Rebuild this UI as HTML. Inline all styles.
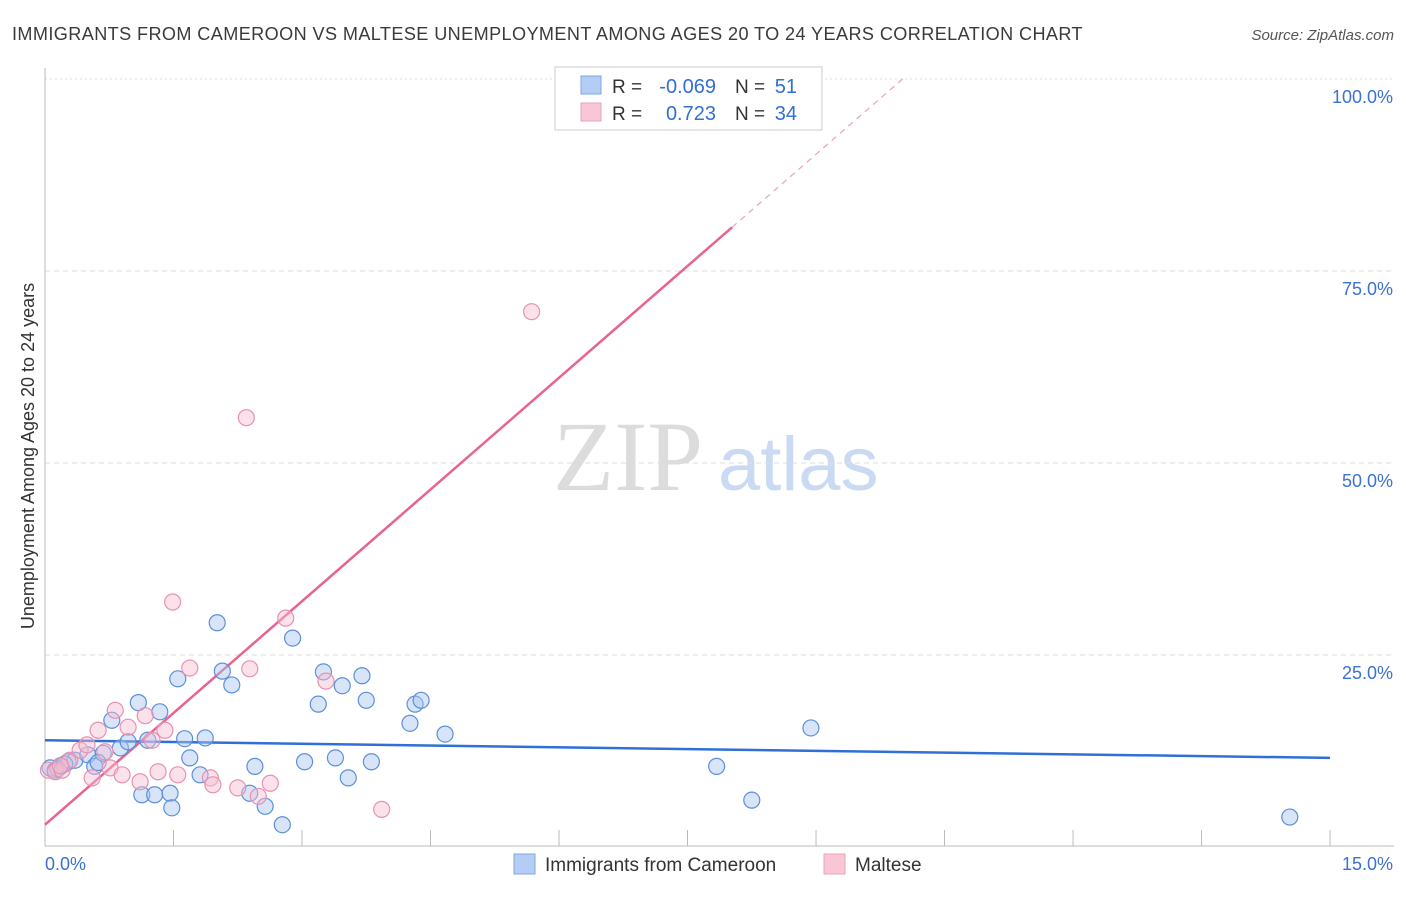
<!DOCTYPE html>
<html><head><meta charset="utf-8"><style>
body{margin:0;background:#fff;font-family:"Liberation Sans",sans-serif;}
svg text{font-family:"Liberation Sans",sans-serif;}
</style></head><body>
<svg width="1406" height="892" viewBox="0 0 1406 892" xmlns="http://www.w3.org/2000/svg" id="chart">
<text x="12" y="40" font-size="18" fill="#3a3a3a" letter-spacing="0.4" textLength="1071" lengthAdjust="spacingAndGlyphs">IMMIGRANTS FROM CAMEROON VS MALTESE UNEMPLOYMENT AMONG AGES 20 TO 24 YEARS CORRELATION CHART</text>
<text x="1394" y="40" font-size="15" fill="#555" text-anchor="end" font-style="italic">Source: ZipAtlas.com</text>
<text x="553" y="490" font-size="100" fill="#dcdcdc" style="font-family:'Liberation Serif',serif">ZIP</text>
<text x="718" y="490" font-size="76" fill="#c9daf2">atlas</text>
<text transform="translate(34,456) rotate(-90)" font-size="18" fill="#333" text-anchor="middle">Unemployment Among Ages 20 to 24 years</text>
<g id="grid"></g><g id="ticks"></g><g id="lines"></g><g id="pts"></g>
<g>
<rect x="555" y="67" width="267" height="63" fill="#fff" stroke="#ccc"/>
<rect x="581" y="76" width="20" height="18" fill="#b3cdf5" stroke="#7fa6e0"/>
<rect x="581" y="103" width="20" height="18" fill="#f9c6d6" stroke="#eea0b8"/>
<text x="612" y="93" font-size="19" fill="#333">R =</text>
<text x="716" y="93" font-size="20" fill="#2f6fd6" text-anchor="end">-0.069</text>
<text x="735" y="93" font-size="19" fill="#333">N =</text>
<text x="797" y="93" font-size="20" fill="#2f6fd6" text-anchor="end">51</text>
<text x="612" y="120" font-size="19" fill="#333">R =</text>
<text x="716" y="120" font-size="20" fill="#2f6fd6" text-anchor="end">0.723</text>
<text x="735" y="120" font-size="19" fill="#333">N =</text>
<text x="797" y="120" font-size="20" fill="#2f6fd6" text-anchor="end">34</text>
</g>
<g>
<rect x="514" y="854" width="21" height="20" fill="#b3cdf5" stroke="#7fa6e0"/>
<text x="545" y="871" font-size="19" fill="#333">Immigrants from Cameroon</text>
<rect x="824" y="854" width="21" height="20" fill="#f9c6d6" stroke="#eea0b8"/>
<text x="855" y="871" font-size="19" fill="#333">Maltese</text>
</g>
</svg>
<script>
const blueX=[0.06,0.12,0.18,0.27,0.35,0.50,0.58,0.68,0.78,0.88,0.97,1.09,1.13,1.20,1.28,1.34,1.46,1.48,1.55,1.63,1.69,1.81,1.87,2.01,2.07,2.18,2.39,2.45,2.57,2.77,2.89,3.03,3.19,3.25,3.39,3.47,3.54,3.70,3.75,3.81,4.26,4.32,4.39,4.67,7.84,8.25,8.94,14.53,0.15,0.23,0.62];
const blueY=[10.3,10.0,10.5,11.1,11.3,12.0,10.5,12.2,16.5,12.9,13.7,18.8,6.8,13.9,6.8,17.6,7.0,5.1,21.9,14.1,11.6,9.4,14.2,29.2,22.9,21.1,7.0,10.5,5.3,2.9,27.2,11.1,18.6,22.8,11.6,21.0,9.0,22.3,19.1,11.1,16.1,18.6,19.1,14.7,10.5,6.1,15.5,3.9,10.2,10.8,11.0];
const pinkX=[0.04,0.12,0.20,0.29,0.41,0.49,0.55,0.62,0.70,0.76,0.82,0.90,0.97,1.11,1.17,1.25,1.32,1.40,1.49,1.55,1.69,1.93,1.96,2.25,2.35,2.39,2.49,2.63,2.81,3.28,3.93,5.68,6.19,0.18];
const pinkY=[10.0,9.8,10.0,11.3,12.6,13.3,9.0,15.2,12.4,10.3,17.8,9.4,15.6,8.5,17.1,13.9,9.8,15.2,31.9,9.4,23.3,9.0,8.1,7.7,55.9,23.2,6.6,8.3,29.8,21.6,4.9,69.7,100,10.6];
const blueTrend=[13.9,-0.153]; // intercept, slope
const pinkTrend=[2.9,9.7];
const yTicks=[25,50,75,100];
const yTickLabels=["25.0%","50.0%","75.0%","100.0%"];
const xTicks=[0,1.5,3,4.5,6,7.5,9,10.5,12,13.5,15];
const NS='http://www.w3.org/2000/svg';
const X=v=>45+v*85.67, Y=v=>847-v*7.68;
function mk(p,t,a){const e=document.createElementNS(NS,t);for(const k in a)e.setAttribute(k,a[k]);document.getElementById(p).appendChild(e);return e;}
yTicks.forEach((t,i)=>{
 const g=mk('grid','line',{x1:45,x2:1394,y1:Y(t),y2:Y(t),stroke:'#ddd','stroke-dasharray':t==100?'2,3':'5,4'});
 
 
 const l=mk('ticks','text',{x:1393,y:Y(t)+24,'font-size':18,fill:'#3b72d0','text-anchor':'end'});l.textContent=yTickLabels[i];
 
 
});
const ax=mk('ticks','line',{x1:45,x2:45,y1:68,y2:846,stroke:'#bbb'});


const bx=mk('ticks','line',{x1:45,x2:1394,y1:846,y2:846,stroke:'#bbb'});


xTicks.forEach(t=>{const e=mk('ticks','line',{x1:X(t),x2:X(t),y1:830,y2:846,stroke:'#bbb'});
 
 });
[[0,"0.0%","start",45],[15,"15.0%","end",1393]].forEach(d=>{const e=mk('ticks','text',{x:d[3],y:870,'font-size':18,fill:'#3b72d0','text-anchor':d[2]});e.textContent=d[1];
 
 });
function pts(xs,ys,fill,stroke,name){xs.forEach((x,i)=>{const c=mk('pts','circle',{cx:X(x),cy:Y(ys[i]),r:8,fill:fill,'fill-opacity':0.45,stroke:stroke,'stroke-width':1.2});
 
 });}
pts(blueX,blueY,'#a9c6f2','#5b8fdb','cameroon-point');
pts(pinkX,pinkY,'#f7bfd1','#e891b0','maltese-point');
const bl=mk('lines','line',{x1:X(0),y1:Y(blueTrend[0]),x2:X(15),y2:Y(blueTrend[0]+blueTrend[1]*15),stroke:'#2f6fd6','stroke-width':2.5});


const xe=8.02, xd=(100-pinkTrend[0])/pinkTrend[1];
const pl=mk('lines','line',{x1:X(0),y1:Y(pinkTrend[0]),x2:X(xe),y2:Y(pinkTrend[0]+pinkTrend[1]*xe),stroke:'#e8638f','stroke-width':2.5});


const pd=mk('lines','line',{x1:X(xe),y1:Y(pinkTrend[0]+pinkTrend[1]*xe),x2:X(xd),y2:Y(100),stroke:'#eea0b8','stroke-width':1.2,'stroke-dasharray':'6,5'});


</script>
</body></html>
